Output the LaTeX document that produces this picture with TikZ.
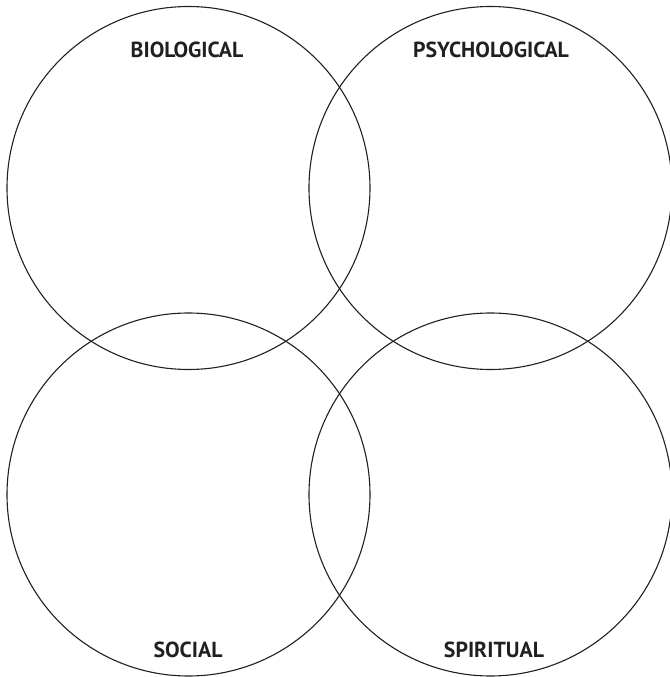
\documentclass[tikz,border=0pt]{standalone}
\usepackage{fontspec}
\setmainfont{PT Sans}
\usepackage{tikz}
\usetikzlibrary{positioning}
\definecolor{ink}{HTML}{231F20}
\tikzset{
  ring/.style={draw=ink, line width=0.55pt},
  tag/.style={font=\bfseries\fontsize{10.9}{12}\selectfont, text=ink, inner sep=0pt}
}
\begin{document}
\begin{tikzpicture}[x=0.5pt,y=0.5pt]
\useasboundingbox (0,0) rectangle (670,677);
\def\rad{181.5}
% four overlapping circles
\draw[ring] (188.5,489) circle (\rad);
\draw[ring] (490.5,489) circle (\rad);
\draw[ring] (188.5,182.5) circle (\rad);
\draw[ring] (490.5,182.5) circle (\rad);
% headings
\node[tag] (bio) at (187,627) {BIOLOGICAL};
\node[tag] (psy) at (491,627) {PSYCHOLOGICAL};
\node[tag] (soc) at (188,27) {SOCIAL};
\node[tag] (spi) at (494,27) {SPIRITUAL};
\end{tikzpicture}
\end{document}
